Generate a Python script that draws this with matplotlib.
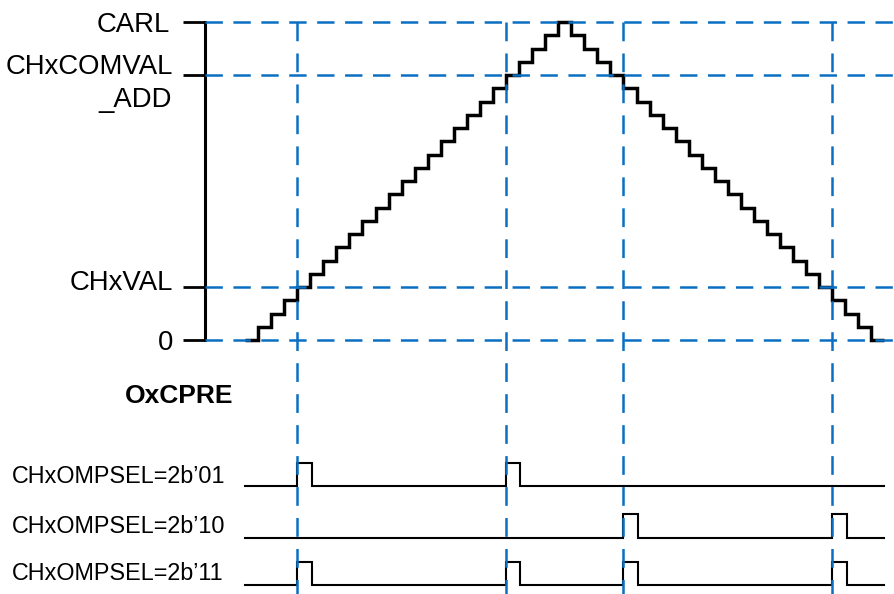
import matplotlib
matplotlib.use("Agg")
import matplotlib.pyplot as plt

plt.rcParams['font.family'] = ['Liberation Sans', 'DejaVu Sans']
plt.rcParams['lines.scale_dashes'] = False

# ---------------- data ----------------
CARL = 24
CHxCOMVAL_ADD = 20
CHxVAL = 4
counter = [0, 1, 2, 3, 4, 5, 6, 7, 8, 9, 10, 11, 12, 13, 14, 15, 16, 17, 18, 19,
           20, 21, 22, 23, 24, 23, 22, 21, 20, 19, 18, 17, 16, 15, 14, 13, 12, 11,
           10, 9, 8, 7, 6, 5, 4, 3, 2, 1, 0]
level_values = [0, CHxVAL, CHxCOMVAL_ADD, CARL]
level_labels = ['0', 'CHxVAL', 'CHxCOMVAL', 'CARL']
match_times = [4, 20, 29, 45]
row_labels = ['CHxOMPSEL=2b\u201901', 'CHxOMPSEL=2b\u201910', 'CHxOMPSEL=2b\u201911']
pulse_starts = [[4, 20], [29, 45], [4, 20, 29, 45]]
pulse_width = 1.1
t_end = 49
section_label = 'OxCPRE'

# ---------------- layout ----------------
W, H = 894, 594
T0_PX, STEP_PX = 245.0, 13.05
AX_LEFT_PX = 205
Y0_PX, YTOP_PX = 340, 22
BLUE = '#0a6fc2'

fig = plt.figure(figsize=(W / 100, H / 100), dpi=100)
xlim = ((AX_LEFT_PX - T0_PX) / STEP_PX, (W - T0_PX) / STEP_PX)

ax = fig.add_axes([AX_LEFT_PX / W, (H - Y0_PX) / H, (W - AX_LEFT_PX) / W, (Y0_PX - YTOP_PX) / H])
ax.set_xlim(*xlim)
ax.set_ylim(0, CARL)
for s in ['top', 'right', 'bottom']:
    ax.spines[s].set_visible(False)
ax.spines['left'].set_linewidth(2.2)
ax.set_xticks([])
ax.set_yticks(level_values)
ax.tick_params(axis='y', length=15.8, width=2.0, direction='out', labelleft=False)
ax.set_zorder(3)
ax.patch.set_visible(False)

edges = list(range(len(counter) + 1))
ax.stairs(counter, edges, baseline=None, color='black', lw=2.5, clip_on=False, zorder=2)

for v in level_values:
    ax.axhline(v, color=BLUE, lw=1.8, dashes=(12.5, 7.6), clip_on=False, zorder=4)
for t in match_times:
    ax.axvline(t, ymin=1, ymax=-(H - Y0_PX) / (Y0_PX - YTOP_PX), color=BLUE, lw=1.8,
               dashes=(13.5, 8.8), clip_on=False, zorder=4)

# level labels (offsets in points: dx, dy of baseline relative to tick)
label_offsets = {'0': (-23.0, -7.2), 'CHxVAL': (-23.0, -2.2),
                 'CHxCOMVAL': (-23.0, 0.7), 'CARL': (-25.0, -7.4)}
for lab, v in zip(level_labels, level_values):
    dx, dy = label_offsets[lab]
    ax.annotate(lab, xy=(0, v), xycoords=('axes fraction', 'data'), xytext=(dx, dy),
                textcoords='offset points', ha='right', va='baseline', fontsize=19.8)
ax.annotate('_ADD', xy=(0, CHxCOMVAL_ADD), xycoords=('axes fraction', 'data'),
            xytext=(-24.0, -23.0), textcoords='offset points', ha='right', va='baseline',
            fontsize=19.8)

fig.text(125 / W, 1 - 403 / H, section_label, fontsize=19, fontweight='bold',
         ha='left', va='baseline')

# pulse rows: (low px, high px, label baseline px)
rows_px = [(485.7, 462.5, 483.3), (537.7, 514.0, 532.7), (585.0, 561.7, 580.0)]
for (ylo, yhi, ybase), lab, starts in zip(rows_px, row_labels, pulse_starts):
    pax = fig.add_axes([AX_LEFT_PX / W, (H - ylo) / H, (W - AX_LEFT_PX) / W, (ylo - yhi) / H])
    pax.set_xlim(*xlim)
    pax.set_ylim(0, 1)
    pax.axis('off')
    xs, ys = [0], [0]
    for s in starts:
        xs += [s, s, s + pulse_width, s + pulse_width]
        ys += [0, 1, 1, 0]
    xs.append(t_end)
    ys.append(0)
    pax.plot(xs, ys, color='black', lw=1.5, clip_on=False, solid_joinstyle='miter')
    fig.text(12 / W, 1 - ybase / H, lab, fontsize=16.8, ha='left', va='baseline')

fig.savefig('out.png', dpi=100)
